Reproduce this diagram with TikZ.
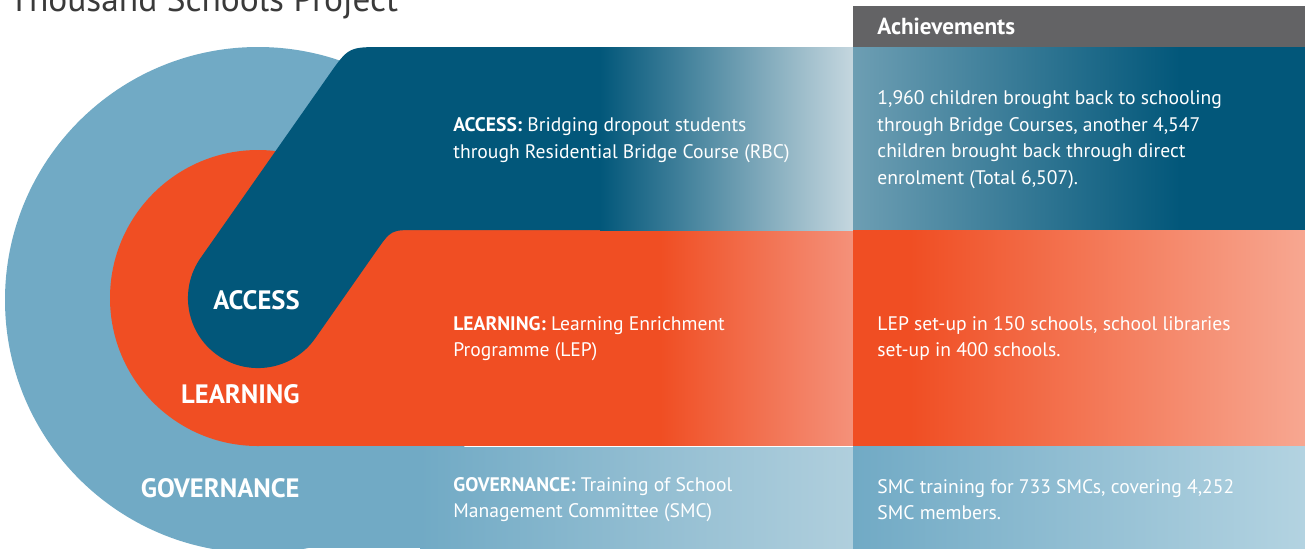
\documentclass[tikz,border=0pt]{standalone}
\usepackage{fontspec}
\setmainfont{PT Sans}
\definecolor{dblue}{HTML}{02577A}
\definecolor{dbluelight}{HTML}{C5D7DF}
\definecolor{dbluemid}{HTML}{6D9EB3}
\definecolor{orng}{HTML}{F04E23}
\definecolor{orngmid}{HTML}{F4917A}
\definecolor{orngend}{HTML}{F7A791}
\definecolor{lblue}{HTML}{71AAC5}
\definecolor{lbluemid}{HTML}{B0CFDD}
\definecolor{lblueend}{HTML}{B3D3E1}
\definecolor{hdrgrey}{HTML}{636365}
\definecolor{titlegrey}{HTML}{3A3A3A}
\tikzset{
  desc/.style={anchor=west, align=left, inner sep=0pt, text=white, font=\fontsize{9.8}{13.25}\selectfont},
  biglabel/.style={anchor=east, inner sep=0pt, text=white, font=\fontsize{13.3}{15}\selectfont\bfseries},
}
\begin{document}
\begin{tikzpicture}[x=0.5pt,y=-0.5pt]
\useasboundingbox (0,0) rectangle (1305,548);
% title (cut at top, as in the reference)
\node[anchor=base west, inner sep=0pt, text=titlegrey, font=\fontsize{17.7}{20}\selectfont] (title) at (9,11) {Thousand Schools Project};
% governance (light blue)
\fill[lblue] (258,300) circle[radius=253];
\fill[lblue] (258,447) rectangle (422,548);
\shade[left color=lblue, right color=lbluemid] (420,447) rectangle (853,548);
% learning (orange)
\fill[orng] (258,298) circle[radius=148];
\fill[orng] (258,230) rectangle (662,445.5);
\shade[left color=orng, right color=orngmid] (660,230) rectangle (853,445.5);
% access (dark blue pill)
\fill[dblue] (602,47) -- (602,230) -- (416,230) .. controls (391.1,230) .. (376.7,250.5)
  -- (315.3,338.2) arc[start angle=35, end angle=215, radius=70]
  -- (328.4,75.7) .. controls (348.5,47) .. (383.5,47) -- cycle;
\shade[left color=dblue, right color=dbluelight] (600,47) rectangle (853,230);
% achievements column
\fill[hdrgrey] (853,6) rectangle (1305,47);
\fill[dblue] (1178,47) rectangle (1305,230);
\shade[left color=dbluemid, right color=dblue] (853,47) rectangle (1180,230);
\fill[orng] (853,230) rectangle (912,446);
\shade[left color=orng, right color=orngend] (910,230) rectangle (1305,446);
\shade[left color=lblue, right color=lblueend] (853,446) rectangle (1305,548);
% labels
\node[biglabel] (access) at (300,300.5) {ACCESS};
\node[biglabel] (learning) at (300,394) {LEARNING};
\node[biglabel] (governance) at (300,488.3) {GOVERNANCE};
\node[anchor=west, inner sep=0pt, text=white, font=\fontsize{11.6}{13}\selectfont\bfseries] (achhdr) at (877,26) {Achievements};
\node[desc] (accessdesc) at (453,140) {\textbf{ACCESS:} Bridging dropout students\\through Residential Bridge Course (RBC)};
\node[desc] (learndesc) at (453,338.5) {\textbf{LEARNING:} Learning Enrichment\\Programme (LEP)};
\node[desc] (govdesc) at (453,499.5) {\textbf{GOVERNANCE:} Training of School\\Management Committee (SMC)};
\node[desc] (accessach) at (877,139.5) {1,960 children brought back to schooling\\through Bridge Courses, another 4,547\\children brought back through direct\\enrolment (Total 6,507).};
\node[desc] (learnach) at (877,338.5) {LEP set-up in 150 schools, school libraries\\set-up in 400 schools.};
\node[desc] (govach) at (877,499.5) {SMC training for 733 SMCs, covering 4,252\\SMC members.};
\end{tikzpicture}
\end{document}
